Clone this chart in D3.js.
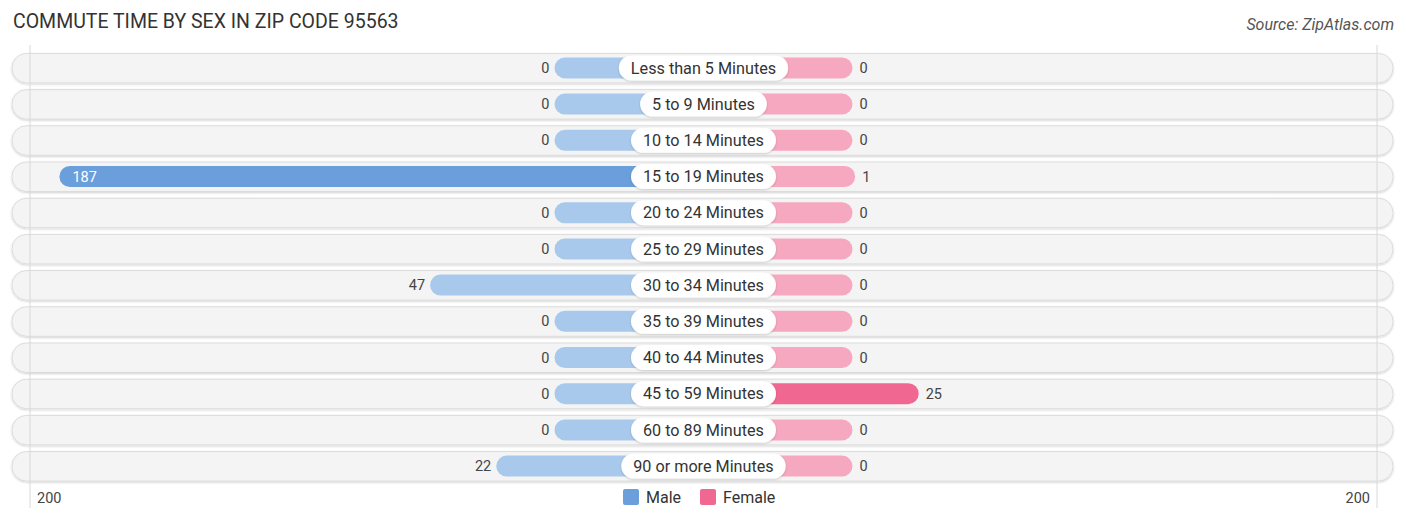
<!DOCTYPE html>
<html>
<head>
<meta charset="utf-8">
<script src="https://cdn.jsdelivr.net/npm/d3@7"></script>
<style>
  html, body { margin: 0; padding: 0; background: #ffffff; }
  svg { display: block; font-family: Roboto, "Open Sans", sans-serif; }
</style>
</head>
<body>
<svg id="chart" width="1406" height="523"></svg>
<script>
const categories = ["Less than 5 Minutes", "5 to 9 Minutes", "10 to 14 Minutes", "15 to 19 Minutes",
  "20 to 24 Minutes", "25 to 29 Minutes", "30 to 34 Minutes", "35 to 39 Minutes",
  "40 to 44 Minutes", "45 to 59 Minutes", "60 to 89 Minutes", "90 or more Minutes"];
const maleValues = [0, 0, 0, 187, 0, 0, 47, 0, 0, 0, 0, 22];
const femaleValues = [0, 0, 0, 1, 0, 0, 0, 0, 0, 25, 0, 0];
const axisTicks = [200];
const seriesNames = ["Male", "Female"];

const W = 1406, H = 523;
const cx = 703.5;
const svg = d3.select("#chart");

const defs = svg.append("defs");
const sh = defs.append("filter").attr("id", "sh").attr("x", "-5%").attr("y", "-30%").attr("width", "110%").attr("height", "160%");
sh.append("feDropShadow").attr("dx", 0).attr("dy", 1).attr("stdDeviation", 1).attr("flood-color", "#000").attr("flood-opacity", 0.18);

// bar length scale (includes a minimum stub length)
const len = d3.scaleLinear().domain([0, 200]).range([149, 678.5]);
// gridline positions for the ±200 axis
const axisX = d3.scaleLinear().domain([-200, 200]).range([30, 1377]);

const y = d3.scaleBand().domain(categories).range([50, 484]).paddingInner(0.17).paddingOuter(0.08);
const bh = y.bandwidth();

// Title
svg.append("text").attr("x", 13).attr("y", 28).attr("font-size", 19.5).attr("fill", "#333")
  .text("COMMUTE TIME BY SEX IN ZIP CODE 95563");
svg.append("text").attr("x", 1394).attr("y", 30).attr("text-anchor", "end").attr("font-size", 16)
  .attr("font-style", "italic").attr("fill", "#555").text("Source: ZipAtlas.com");

// row backgrounds
const rows = svg.append("g");
categories.forEach((c, i) => {
  const yc = y(c) + bh / 2;
  rows.append("rect").attr("x", 12).attr("y", yc - 14.5).attr("width", 1381).attr("height", 29.5)
    .attr("rx", 14.5).attr("fill", "#f4f4f4").attr("stroke", "#dcdcdc").attr("stroke-width", 1)
    .attr("filter", "url(#sh)");
});

// grid lines
axisTicks.forEach(t => {
  [-t, t].forEach(v => {
    svg.append("line").attr("x1", axisX(v)).attr("x2", axisX(v)).attr("y1", 45).attr("y2", 508)
      .attr("stroke", "#d8d8d8").attr("stroke-width", 1);
  });
});

const maleStrong = "#6a9fdc", maleLight = "#a9c9ec";
const femStrong = "#f06892", femLight = "#f6a8c1";
const barH = 21;

const g = svg.append("g");
categories.forEach((c, i) => {
  const yc = y(c) + bh / 2;
  const mv = maleValues[i], fv = femaleValues[i];
  const mw = len(mv), fw = len(fv);
  const mStrong = mv > 100;
  g.append("rect").attr("x", cx - mw).attr("y", yc - barH / 2).attr("width", mw).attr("height", barH)
    .attr("rx", barH / 2).attr("fill", mStrong ? maleStrong : maleLight);
  g.append("rect").attr("x", cx).attr("y", yc - barH / 2).attr("width", fw).attr("height", barH)
    .attr("rx", barH / 2).attr("fill", fv > 10 ? femStrong : femLight);
  if (mStrong) {
    g.append("text").attr("x", cx - mw + 13).attr("y", yc).attr("dy", "0.35em").attr("font-size", 14.5)
      .attr("fill", "#fff").text(mv);
  } else {
    g.append("text").attr("x", cx - mw - 5).attr("y", yc).attr("dy", "0.35em").attr("font-size", 14.5)
      .attr("text-anchor", "end").attr("fill", "#444").text(mv);
  }
  g.append("text").attr("x", cx + fw + 7).attr("y", yc).attr("dy", "0.35em").attr("font-size", 14.5)
    .attr("fill", "#444").text(fv);

  // label pill
  const t = g.append("text").attr("x", cx).attr("y", yc).attr("dy", "0.35em").attr("text-anchor", "middle")
    .attr("font-size", 16.2).attr("fill", "#333").text(c);
  const tw = t.node().getComputedTextLength();
  g.insert("rect", () => t.node()).attr("x", cx - tw / 2 - 12).attr("y", yc - 12.5).attr("width", tw + 24)
    .attr("height", 25).attr("rx", 12.5).attr("fill", "#fff").attr("filter", "url(#sh)");
});

// axis labels
svg.append("text").attr("x", 37).attr("y", 503).attr("font-size", 14.5).attr("fill", "#444").text(axisTicks[0]);
svg.append("text").attr("x", 1370).attr("y", 503).attr("text-anchor", "end").attr("font-size", 14.5).attr("fill", "#444").text(axisTicks[0]);

// legend
const leg = svg.append("g");
const legX = [623, 700];
const legC = [maleStrong, femStrong];
seriesNames.forEach((n, i) => {
  leg.append("rect").attr("x", legX[i]).attr("y", 489).attr("width", 16).attr("height", 16).attr("rx", 2)
    .attr("fill", legC[i]);
  leg.append("text").attr("x", legX[i] + 23).attr("y", 497).attr("dy", "0.35em").attr("font-size", 16)
    .attr("fill", "#333").text(n);
});
</script>
</body>
</html>
